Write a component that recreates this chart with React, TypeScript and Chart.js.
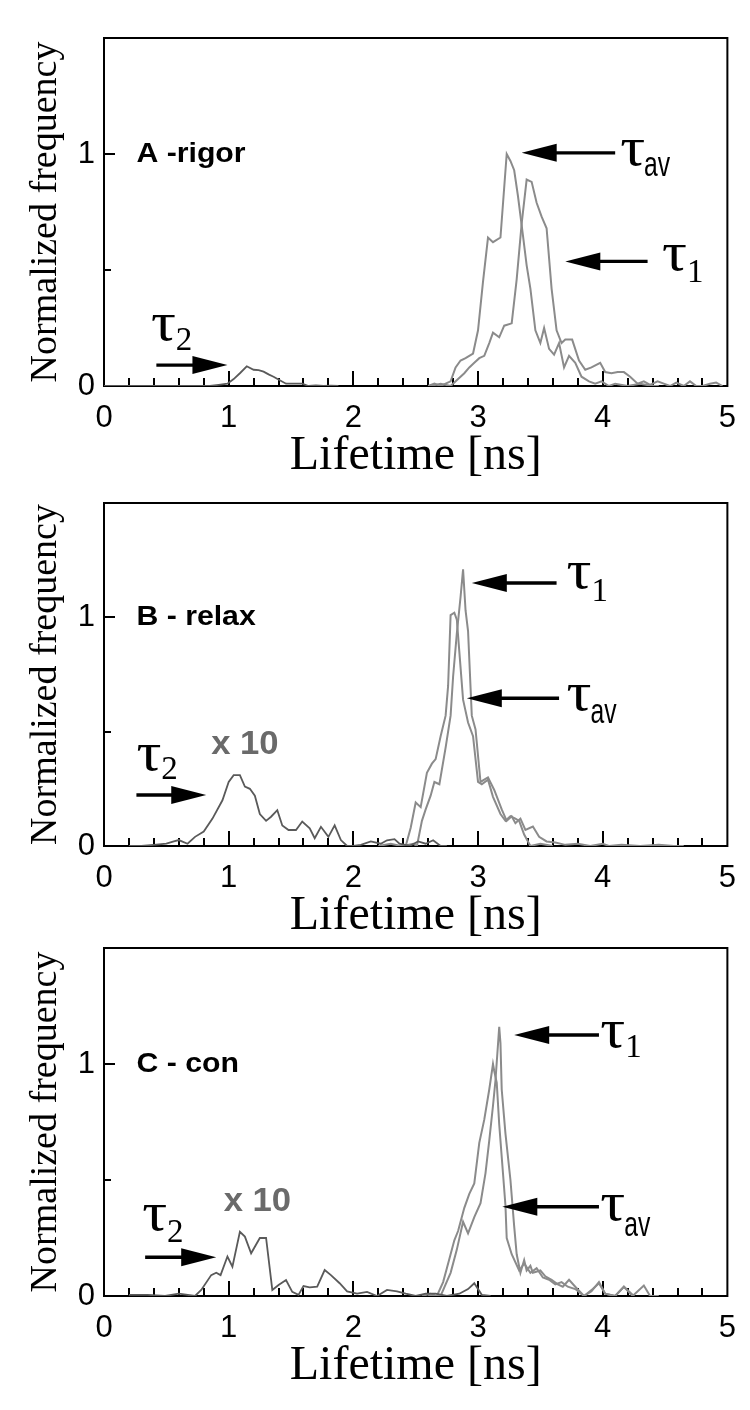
import React, { useEffect, useRef } from 'react';
import { Chart, registerables } from 'chart.js';
Chart.register(...registerables);

// ---------- data (lifetime in ns, normalized frequency) ----------
const A_TAV_X = [2.60, 2.65, 2.70, 2.74, 2.78, 2.82, 2.86, 2.90, 2.96, 3.00, 3.04, 3.08, 3.12, 3.18, 3.23, 3.26, 3.29, 3.32, 3.36, 3.39, 3.42, 3.46, 3.50, 3.53, 3.57, 3.61, 3.65, 3.69, 3.73, 3.78, 3.83, 3.89, 3.94, 3.99, 4.05, 4.10, 4.20, 4.30, 4.40, 4.45];
const A_TAV_Y = [0.0, 0.01, 0.0, 0.01, 0.02, 0.08, 0.11, 0.12, 0.14, 0.24, 0.45, 0.64, 0.62, 0.64, 1.0, 0.97, 0.93, 0.82, 0.65, 0.52, 0.42, 0.24, 0.185, 0.25, 0.16, 0.135, 0.185, 0.08, 0.13, 0.10, 0.04, 0.02, 0.01, 0.02, 0.0, 0.01, 0.0, 0.01, 0.0, 0.0];
const A_T1_X = [2.62, 2.70, 2.78, 2.84, 2.89, 2.93, 2.97, 3.01, 3.05, 3.09, 3.12, 3.17, 3.21, 3.27, 3.31, 3.35, 3.39, 3.43, 3.47, 3.51, 3.55, 3.59, 3.63, 3.67, 3.70, 3.755, 3.81, 3.86, 3.91, 3.98, 4.02, 4.07, 4.12, 4.17, 4.22, 4.28, 4.33, 4.38, 4.44, 4.49, 4.54, 4.59, 4.65, 4.70, 4.75, 4.80, 4.86, 4.91, 4.96];
const A_T1_Y = [0.0, 0.01, 0.0, 0.03, 0.055, 0.08, 0.1, 0.12, 0.13, 0.185, 0.23, 0.21, 0.26, 0.27, 0.46, 0.70, 0.89, 0.88, 0.79, 0.73, 0.68, 0.42, 0.24, 0.185, 0.20, 0.20, 0.11, 0.07, 0.08, 0.10, 0.06, 0.055, 0.06, 0.06, 0.04, 0.01, 0.02, 0.005, 0.02, 0.01, 0.0, 0.015, 0.0, 0.02, 0.0, 0.0, 0.01, 0.015, 0.0];
const A_T2_X = [0.0, 0.5, 0.85, 0.92, 0.99, 1.04, 1.09, 1.145, 1.20, 1.24, 1.28, 1.32, 1.36, 1.41, 1.46, 1.52, 1.59, 1.64, 1.70, 1.76, 1.82, 1.88];
const A_T2_Y = [0.0, 0.0, 0.0, 0.005, 0.01, 0.03, 0.055, 0.085, 0.07, 0.068, 0.062, 0.05, 0.04, 0.025, 0.01, 0.01, 0.01, 0.0, 0.003, 0.0, 0.002, 0.0];

const B_TAV_X = [2.20, 2.30, 2.38, 2.42, 2.46, 2.50, 2.54, 2.59, 2.63, 2.66, 2.70, 2.74, 2.76, 2.78, 2.81, 2.83, 2.86, 2.88, 2.92, 2.96, 3.00, 3.03, 3.08, 3.12, 3.18, 3.22, 3.26, 3.30, 3.33, 3.37, 3.42, 3.50, 3.60];
const B_TAV_Y = [0.0, 0.01, 0.0, 0.0, 0.08, 0.19, 0.17, 0.32, 0.36, 0.38, 0.48, 0.57, 0.70, 1.01, 1.02, 0.99, 0.78, 0.64, 0.54, 0.48, 0.28, 0.27, 0.29, 0.215, 0.14, 0.11, 0.13, 0.12, 0.11, 0.05, 0.0, 0.01, 0.0];
const B_T1_X = [2.40, 2.48, 2.51, 2.55, 2.58, 2.62, 2.65, 2.69, 2.74, 2.78, 2.80, 2.83, 2.86, 2.88, 2.90, 2.92, 2.95, 2.98, 3.02, 3.05, 3.08, 3.13, 3.19, 3.23, 3.27, 3.30, 3.34, 3.38, 3.44, 3.49, 3.55, 3.62, 3.70, 3.80, 3.90, 4.0, 4.05, 4.15, 4.3, 4.45, 4.57, 4.65];
const B_T1_Y = [0.0, 0.01, 0.0, 0.11, 0.16, 0.22, 0.28, 0.27, 0.43, 0.57, 0.74, 0.93, 1.09, 1.21, 1.03, 0.94, 0.57, 0.51, 0.28, 0.29, 0.30, 0.245, 0.16, 0.11, 0.13, 0.10, 0.12, 0.07, 0.085, 0.04, 0.02, 0.015, 0.005, 0.01, 0.0, 0.01, 0.0, 0.005, 0.0, 0.005, 0.0, 0.0];
const B_T2_X = [0.20, 0.30, 0.40, 0.50, 0.56, 0.60, 0.67, 0.73, 0.80, 0.87, 0.95, 1.00, 1.04, 1.09, 1.13, 1.17, 1.21, 1.25, 1.30, 1.34, 1.39, 1.43, 1.48, 1.54, 1.59, 1.65, 1.69, 1.74, 1.80, 1.85, 1.90, 1.95, 2.00, 2.06, 2.14, 2.22, 2.27, 2.33, 2.37, 2.45, 2.52, 2.58, 2.64, 2.70, 2.75];
const B_T2_Y = [0.0, 0.0, 0.005, 0.01, 0.02, 0.026, 0.01, 0.04, 0.063, 0.12, 0.20, 0.28, 0.31, 0.31, 0.26, 0.25, 0.22, 0.14, 0.11, 0.128, 0.157, 0.09, 0.07, 0.07, 0.107, 0.077, 0.034, 0.084, 0.04, 0.09, 0.026, 0.0, 0.0, 0.005, 0.02, 0.01, 0.025, 0.03, 0.01, 0.0, 0.02, 0.01, 0.025, 0.0, 0.0];

const C_TAV_X = [2.55, 2.62, 2.67, 2.72, 2.75, 2.78, 2.81, 2.84, 2.89, 2.93, 2.97, 3.01, 3.05, 3.09, 3.12, 3.13, 3.15, 3.17, 3.20, 3.22, 3.23, 3.27, 3.33, 3.37, 3.42, 3.47, 3.52, 3.57, 3.62, 3.67, 3.72, 3.78, 3.85, 3.92, 3.97, 4.02, 4.10, 4.17, 4.25];
const C_TAV_Y = [0.0, 0.01, 0.0, 0.06, 0.12, 0.18, 0.24, 0.28, 0.38, 0.44, 0.485, 0.66, 0.76, 0.89, 1.0, 0.97, 0.92, 0.74, 0.53, 0.39, 0.25, 0.18, 0.11, 0.14, 0.10, 0.12, 0.08, 0.07, 0.05, 0.06, 0.04, 0.03, 0.0, 0.03, 0.055, 0.01, 0.0, 0.04, 0.0];
const C_T1_X = [2.60, 2.70, 2.74, 2.78, 2.83, 2.88, 2.92, 2.97, 3.02, 3.06, 3.09, 3.12, 3.14, 3.17, 3.18, 3.19, 3.22, 3.26, 3.29, 3.31, 3.34, 3.37, 3.39, 3.42, 3.44, 3.50, 3.54, 3.59, 3.64, 3.68, 3.73, 3.78, 3.85, 3.91, 3.97, 4.02, 4.10, 4.17, 4.24, 4.33, 4.38, 4.45];
const C_T1_Y = [0.0, 0.0, 0.05, 0.1, 0.2, 0.32, 0.27, 0.34, 0.40, 0.53, 0.67, 0.82, 0.93, 1.16, 1.09, 0.89, 0.70, 0.50, 0.30, 0.18, 0.10, 0.155, 0.11, 0.13, 0.10, 0.11, 0.085, 0.07, 0.05, 0.04, 0.07, 0.04, 0.0, 0.02, 0.06, 0.01, 0.0, 0.04, 0.0, 0.045, 0.0, 0.0];
const C_T2_X = [0.20, 0.35, 0.49, 0.60, 0.73, 0.78, 0.86, 0.90, 0.935, 0.99, 1.03, 1.09, 1.13, 1.18, 1.25, 1.30, 1.35, 1.40, 1.46, 1.51, 1.56, 1.60, 1.65, 1.71, 1.77, 1.82, 1.89, 1.95, 2.03, 2.11, 2.19, 2.27, 2.35, 2.42, 2.50, 2.58, 2.66, 2.75, 2.85, 2.92, 2.97, 3.03, 3.10];
const C_T2_Y = [0.005, 0.005, 0.0, 0.01, 0.0, 0.026, 0.09, 0.10, 0.09, 0.17, 0.126, 0.277, 0.256, 0.184, 0.25, 0.25, 0.026, 0.047, 0.069, 0.018, 0.005, 0.043, 0.037, 0.04, 0.112, 0.09, 0.055, 0.02, 0.01, 0.018, 0.0, 0.026, 0.02, 0.01, 0.0, 0.01, 0.01, 0.0, 0.01, 0.03, 0.055, 0.005, 0.0];

const X_MIN = 0, X_MAX = 5, X_STEP = 0.2;
const Y_MIN = 0, Y_MAX = 1.5, Y_STEP = 0.5;
const X_LABELLED = [0, 1, 2, 3, 4, 5];
const Y_LABELLED = [0, 1];

const PANEL_LABELS = ['A -rigor', 'B - relax', 'C - con'];
const X_TITLE = 'Lifetime [ns]';
const Y_TITLE = 'Normalized frequency';

// ---------- styling / layout ----------
const MAIN_GRAY = '#8b8b8b';
const DARK_GRAY = '#5a5a5a';
const SANS = '"Liberation Sans", Arial, sans-serif';
const NARROW = '"Liberation Sans Narrow", "Liberation Sans", Arial, sans-serif';
const SERIF = '"Liberation Serif", "Times New Roman", serif';

type Arrow = { from: number; to: number; y: number };
type Tau = { x: number; y: number; sub: string; serifSub: boolean; dy: number };
type PanelCfg = {
  series: { xs: number[]; ys: number[]; color: string; width: number }[];
  label: string;
  labelPos: [number, number];
  arrows: Arrow[];
  taus: Tau[];
  times?: [number, number];
  padTop: number;
  canvasTop: number;
};

const PANELS: PanelCfg[] = [
  {
    series: [
      { xs: A_T2_X, ys: A_T2_Y, color: DARK_GRAY, width: 1.8 },
      { xs: A_TAV_X, ys: A_TAV_Y, color: MAIN_GRAY, width: 2 },
      { xs: A_T1_X, ys: A_T1_Y, color: MAIN_GRAY, width: 2 },
    ],
    label: PANEL_LABELS[0], labelPos: [0.26, 1.0],
    arrows: [
      { from: 4.10, to: 3.35, y: 1.005 },
      { from: 4.36, to: 3.70, y: 0.537 },
      { from: 0.42, to: 0.99, y: 0.09 },
    ],
    taus: [
      { x: 4.14, y: 0.952, sub: 'av', serifSub: false, dy: 11 },
      { x: 4.475, y: 0.502, sub: '1', serifSub: true, dy: 12 },
      { x: 0.376, y: 0.199, sub: '2', serifSub: true, dy: 10 },
    ],
    padTop: 38, canvasTop: 0,
  },
  {
    series: [
      { xs: B_T2_X, ys: B_T2_Y, color: DARK_GRAY, width: 1.8 },
      { xs: B_TAV_X, ys: B_TAV_Y, color: MAIN_GRAY, width: 2 },
      { xs: B_T1_X, ys: B_T1_Y, color: MAIN_GRAY, width: 2 },
    ],
    label: PANEL_LABELS[1], labelPos: [0.26, 1.0],
    arrows: [
      { from: 3.63, to: 2.95, y: 1.15 },
      { from: 3.65, to: 2.91, y: 0.646 },
      { from: 0.26, to: 0.82, y: 0.223 },
    ],
    taus: [
      { x: 3.71, y: 1.127, sub: '1', serifSub: true, dy: 13 },
      { x: 3.71, y: 0.594, sub: 'av', serifSub: false, dy: 13 },
      { x: 0.26, y: 0.332, sub: '2', serifSub: true, dy: 9 },
    ],
    times: [1.13, 0.44],
    padTop: 43, canvasTop: 460,
  },
  {
    series: [
      { xs: C_T2_X, ys: C_T2_Y, color: DARK_GRAY, width: 1.8 },
      { xs: C_TAV_X, ys: C_TAV_Y, color: MAIN_GRAY, width: 2 },
      { xs: C_T1_X, ys: C_T1_Y, color: MAIN_GRAY, width: 2 },
    ],
    label: PANEL_LABELS[2], labelPos: [0.26, 1.0],
    arrows: [
      { from: 3.97, to: 3.29, y: 1.125 },
      { from: 3.97, to: 3.195, y: 0.385 },
      { from: 0.33, to: 0.90, y: 0.167 },
    ],
    taus: [
      { x: 3.98, y: 1.073, sub: '1', serifSub: true, dy: 10 },
      { x: 3.98, y: 0.328, sub: 'av', serifSub: false, dy: 16 },
      { x: 0.306, y: 0.284, sub: '2', serifSub: true, dy: 12 },
    ],
    times: [1.23, 0.405],
    padTop: 38, canvasTop: 910,
  },
];

const near = (v: number, list: number[]) => list.some((t) => Math.abs(v - t) < 1e-6);

function drawText(ctx: CanvasRenderingContext2D, text: string, x: number, y: number, font: string, color: string,
  align: CanvasTextAlign, baseline: CanvasTextBaseline, sx = 1, sy = 1) {
  ctx.save();
  ctx.translate(x, y);
  ctx.scale(sx, sy);
  ctx.font = font;
  ctx.fillStyle = color;
  ctx.textAlign = align;
  ctx.textBaseline = baseline;
  ctx.fillText(text, 0, 0);
  ctx.restore();
}

function drawArrow(ctx: CanvasRenderingContext2D, x0: number, y0: number, x1: number) {
  const dir = Math.sign(x1 - x0);
  const headLen = 35, half = 9;
  const baseX = x1 - dir * headLen;
  ctx.save();
  ctx.strokeStyle = '#000';
  ctx.fillStyle = '#000';
  ctx.lineWidth = 3.4;
  ctx.beginPath();
  ctx.moveTo(x0, y0);
  ctx.lineTo(baseX + dir * 2, y0);
  ctx.stroke();
  ctx.beginPath();
  ctx.moveTo(x1, y0);
  ctx.lineTo(baseX, y0 - half);
  ctx.lineTo(baseX, y0 + half);
  ctx.closePath();
  ctx.fill();
  ctx.restore();
}

const framePlugin = {
  id: 'frame',
  beforeDatasetsDraw(chart: any) {
    const { ctx, chartArea: a, scales } = chart;
    const x = scales.x, y = scales.y;
    ctx.save();
    ctx.strokeStyle = '#000';
    ctx.lineWidth = 2;
    ctx.strokeRect(a.left, a.top, a.right - a.left, a.bottom - a.top);
    ctx.lineWidth = 2;
    x.ticks.forEach((t: any) => {
      const v = t.value;
      if (v <= X_MIN + 1e-6 || v >= X_MAX - 1e-6) return;
      const major = Math.abs(v - Math.round(v)) < 1e-6;
      const px = Math.round(x.getPixelForValue(v));
      ctx.beginPath();
      ctx.moveTo(px, a.bottom);
      ctx.lineTo(px, a.bottom - (major ? 15 : 8));
      ctx.stroke();
    });
    y.ticks.forEach((t: any) => {
      const v = t.value;
      if (v <= Y_MIN + 1e-6 || v >= Y_MAX - 1e-6) return;
      const major = near(v, Y_LABELLED);
      const py = Math.round(y.getPixelForValue(v));
      ctx.beginPath();
      ctx.moveTo(a.left, py);
      ctx.lineTo(a.left + (major ? 11 : 7), py);
      ctx.stroke();
    });
    ctx.restore();
  },
};

function makeAnnotPlugin(p: PanelCfg) {
  return {
    id: 'annot',
    afterDatasetsDraw(chart: any) {
      const { ctx, scales } = chart;
      const x = scales.x, y = scales.y;
      drawText(ctx, p.label, x.getPixelForValue(p.labelPos[0]), y.getPixelForValue(p.labelPos[1]),
        `bold 28px ${SANS}`, '#000', 'left', 'middle', 1.08, 1);
      p.arrows.forEach((ar) => {
        drawArrow(ctx, x.getPixelForValue(ar.from), y.getPixelForValue(ar.y), x.getPixelForValue(ar.to));
      });
      p.taus.forEach((t) => {
        const px = x.getPixelForValue(t.x);
        const py = y.getPixelForValue(t.y);
        const tauFont = `54px ${SERIF}`;
        drawText(ctx, 'τ', px, py, tauFont, '#000', 'left', 'alphabetic', 1.15, 1);
        ctx.save();
        ctx.font = tauFont;
        const w = ctx.measureText('τ').width * 1.15;
        ctx.restore();
        if (t.serifSub) {
          drawText(ctx, t.sub, px + w, py + t.dy, `33px ${SERIF}`, '#000', 'left', 'alphabetic', 1, 1);
        } else {
          drawText(ctx, t.sub, px + w - 1, py + t.dy, `26px ${SANS}`, '#000', 'left', 'alphabetic', 0.95, 1.35);
        }
      });
      if (p.times) {
        drawText(ctx, 'x 10', x.getPixelForValue(p.times[0]), y.getPixelForValue(p.times[1]),
          `bold 33px ${SANS}`, '#6a6a6a', 'center', 'middle', 1.05, 1);
      }
    },
  };
}

function buildConfig(p: PanelCfg): any {
  return {
    type: 'line',
    data: {
      datasets: p.series.map((s) => ({
        data: s.xs.map((xv, i) => ({ x: xv, y: s.ys[i] })),
        borderColor: s.color,
        borderWidth: s.width,
        pointRadius: 0,
        tension: 0,
        fill: false,
      })),
    },
    options: {
      animation: false,
      responsive: false,
      devicePixelRatio: 1,
      layout: { padding: { top: p.padTop, right: 8, bottom: 0, left: 0 } },
      plugins: { legend: { display: false }, tooltip: { enabled: false } },
      scales: {
        x: {
          type: 'linear', min: X_MIN, max: X_MAX,
          grid: { display: false, drawTicks: false },
          border: { display: false },
          ticks: {
            stepSize: X_STEP, autoSkip: false, maxRotation: 0, maxTicksLimit: 100,
            padding: 14, color: '#000', font: { family: NARROW, size: 31 },
            callback: (v: number) => (near(v, X_LABELLED) ? String(Math.round(v)) : ''),
          },
          title: {
            display: true, text: X_TITLE, color: '#000',
            font: { family: SERIF, size: 48, lineHeight: 1 }, padding: { top: 0, bottom: 0 },
          },
          afterFit: (s: any) => { s.height = 94; },
        },
        y: {
          type: 'linear', min: Y_MIN, max: Y_MAX,
          grid: { display: false, drawTicks: false },
          border: { display: false },
          ticks: {
            stepSize: Y_STEP, autoSkip: false, padding: 9, color: '#000',
            font: { family: NARROW, size: 31 },
            callback: (v: number) => (near(v, Y_LABELLED) ? String(Math.round(v)) : ''),
          },
          title: {
            display: true, text: Y_TITLE, color: '#000',
            font: { family: SERIF, size: 38, lineHeight: 1 }, padding: { top: 27, bottom: 0 },
          },
          afterFit: (s: any) => { s.width = 104; },
        },
      },
    },
    plugins: [framePlugin, makeAnnotPlugin(p)],
  };
}

function Panel({ cfg }: { cfg: PanelCfg }) {
  const ref = useRef<HTMLCanvasElement>(null);
  useEffect(() => {
    if (!ref.current) return;
    const chart = new Chart(ref.current, buildConfig(cfg));
    return () => chart.destroy();
  }, [cfg]);
  return (
    <canvas
      ref={ref}
      width={750}
      height={480}
      style={{ position: 'absolute', left: 0, top: cfg.canvasTop, width: 750, height: 480 }}
    />
  );
}

export default function App() {
  return (
    <div style={{ position: 'absolute', left: 0, top: 0, width: 750, height: 1410, background: '#fff', overflow: 'hidden' }}>
      {PANELS.map((p, i) => (
        <Panel key={i} cfg={p} />
      ))}
    </div>
  );
}
